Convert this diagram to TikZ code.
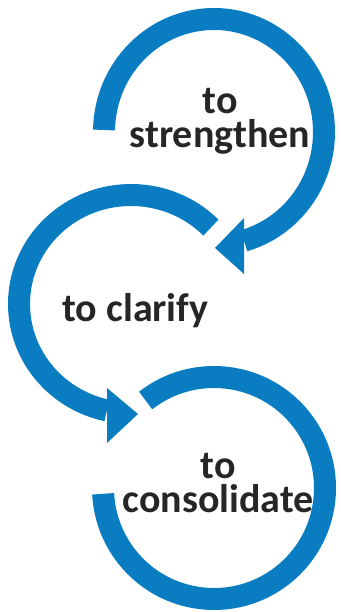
\documentclass[tikz,border=0pt]{standalone}
\usepackage{fontspec}
\setmainfont{Carlito}
\usetikzlibrary{calc}
\definecolor{ringblue}{HTML}{0A7DC2}
\definecolor{txtgray}{HTML}{262626}
\begin{document}
\begin{tikzpicture}[x=1pt,y=1pt,
  ring/.style={draw=ringblue, line width=22pt},
  head/.style={fill=ringblue},
  lbl/.style={text=txtgray, font=\fontsize{40}{34}\selectfont\bfseries, align=center, inner sep=0pt}]
\useasboundingbox (0,0) rectangle (340,612);
% centres
\coordinate (c1) at (214,480);
\coordinate (c2) at (131,308);
\coordinate (c3) at (214,124);
% ring 1 (top)
\draw[ring] ($(c1)+(179:110 and 113)$) arc[start angle=179, end angle=-74.2, x radius=110, y radius=113];
\coordinate (h1a) at (244,394);
\coordinate (h1b) at (244,338);
\coordinate (h1t) at (215,364);
\fill[head] (h1a) -- (h1b) -- (h1t) -- cycle;
% ring 2 (middle)
\draw[ring] ($(c2)+(44.5:112 and 109)$) arc[start angle=44.5, end angle=257.6, x radius=112, y radius=109];
\coordinate (h2a) at (107,224);
\coordinate (h2b) at (107,169);
\coordinate (h2t) at (138,198);
\fill[head] (h2a) -- (h2b) -- (h2t) -- cycle;
% ring 3 (bottom)
\draw[ring] ($(c3)+(128:111)$) arc[start angle=128, end angle=-177, radius=111];
% labels
\node[lbl, anchor=base] (l1) at (220,464) {to\\strengthen};
\node[lbl, anchor=base] (l2) at (135.5,290) {to clarify};
\node[lbl, anchor=base] (l3) at (218,99) {to\\consolidate};
\end{tikzpicture}
\end{document}
